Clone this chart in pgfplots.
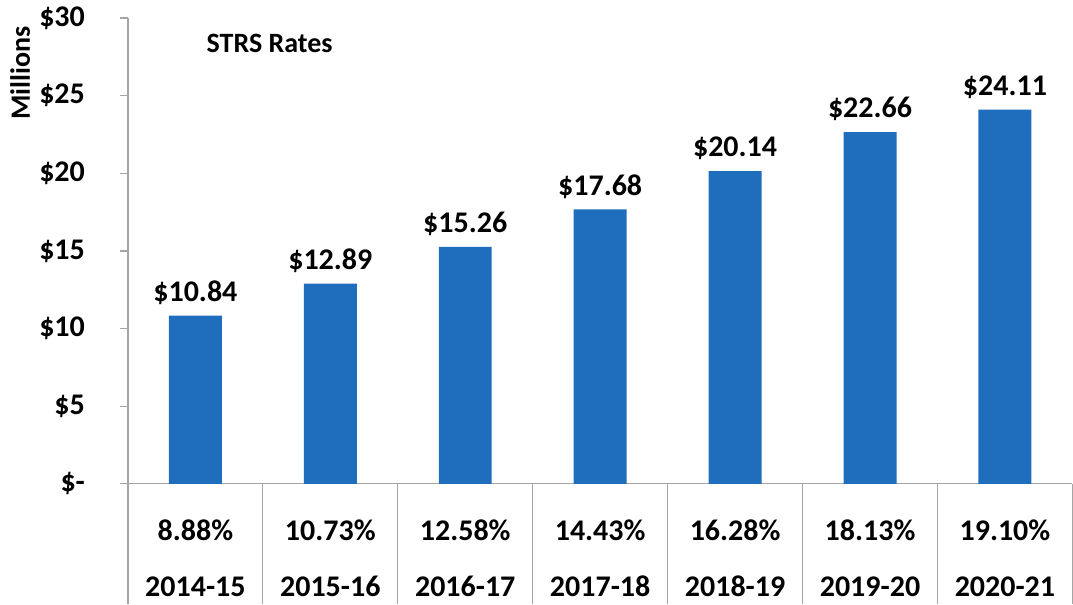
\documentclass[border=0pt]{standalone}
\usepackage{pgfplots}
\pgfplotsset{compat=1.18}
\usepackage{fontspec}
\setmainfont{Carlito}
\definecolor{barblue}{RGB}{31,110,190}
\definecolor{axgray}{RGB}{165,165,165}
\begin{document}
\begin{tikzpicture}
\begin{axis}[
  at={(0,0)}, anchor=south west,
  scale only axis,
  width=472.5pt, height=233pt,
  xmin=-0.5, xmax=6.5,
  ymin=0, ymax=30,
  axis x line*=bottom, axis y line*=left,
  axis line style={-, axgray, line width=0.6pt},
  ytick={0,5,10,15,20,25,30},
  yticklabels={\$-,\$5,\$10,\$15,\$20,\$25,\$30},
  yticklabel style={font=\fontsize{15}{18}\selectfont\bfseries, anchor=east, xshift=-14pt},
  ytick style={axgray, line width=0.6pt},
  tick align=outside,
  major tick length=4pt,
  xtick={0,1,2,3,4,5,6},
  xticklabels={{8.88\%\\[10pt]2014-15},{10.73\%\\[10pt]2015-16},{12.58\%\\[10pt]2016-17},{14.43\%\\[10pt]2017-18},{16.28\%\\[10pt]2018-19},{18.13\%\\[10pt]2019-20},{19.10\%\\[10pt]2020-21}},
  xticklabel style={font=\fontsize{15}{18}\selectfont\bfseries, align=center, yshift=-10.5pt},
  xtick style={draw=none},
  clip=false,
  nodes near coords,
  point meta=explicit symbolic,
  nodes near coords style={font=\fontsize{15}{18}\selectfont\bfseries, anchor=south, yshift=2pt},
]
\addplot[ybar, bar width=26.5pt, fill=barblue, draw=none] coordinates {
  (0,10.84) [\$10.84]
  (1,12.89) [\$12.89]
  (2,15.26) [\$15.26]
  (3,17.68) [\$17.68]
  (4,20.14) [\$20.14]
  (5,22.66) [\$22.66]
  (6,24.11) [\$24.11]
};
\pgfplotsinvokeforeach{-0.5,0.5,1.5,2.5,3.5,4.5,5.5,6.5}{
  \draw[axgray, line width=0.6pt] (axis cs:#1,0) -- ([yshift=-60pt]axis cs:#1,0);
}
\node[font=\fontsize{14}{16}\selectfont\bfseries] at (rel axis cs:0.150,0.946) {STRS Rates};
\node[font=\fontsize{14}{16}\selectfont\bfseries, rotate=90] at (rel axis cs:-0.114,0.882) {Millions};
\end{axis}
\path (-64pt,-60pt) rectangle (472.5pt,242pt);
\end{tikzpicture}
\end{document}
